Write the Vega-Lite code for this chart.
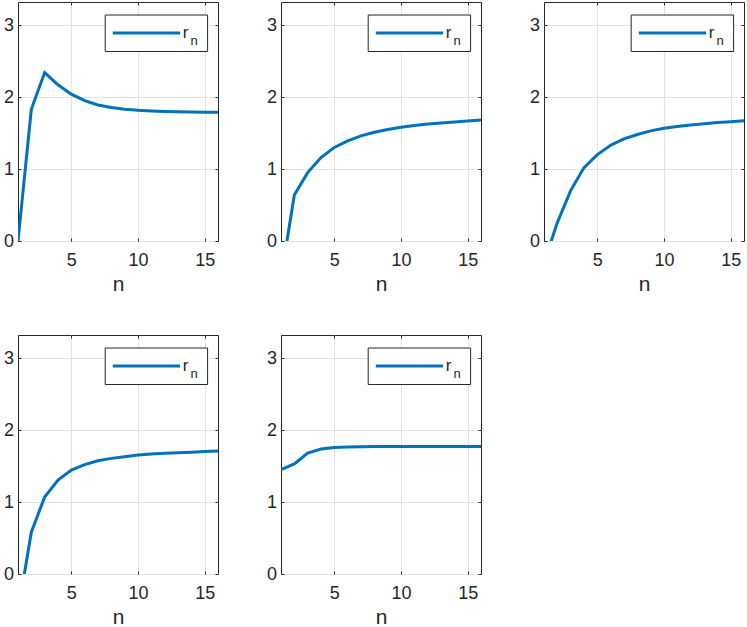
{
  "$schema": "https://vega.github.io/schema/vega-lite/v6.json",
  "padding": {"left": 2, "top": 1, "right": 3, "bottom": 0},
  "background": "white",
  "datasets": {
    "curves": [
      {"panel": 1, "n": 1, "r": 0}, {"panel": 1, "n": 2, "r": 1.83}, {"panel": 1, "n": 3, "r": 2.34}, {"panel": 1, "n": 4, "r": 2.17},
      {"panel": 1, "n": 5, "r": 2.04}, {"panel": 1, "n": 6, "r": 1.95}, {"panel": 1, "n": 7, "r": 1.89}, {"panel": 1, "n": 8, "r": 1.855},
      {"panel": 1, "n": 9, "r": 1.83}, {"panel": 1, "n": 10, "r": 1.815}, {"panel": 1, "n": 11, "r": 1.807}, {"panel": 1, "n": 12, "r": 1.80},
      {"panel": 1, "n": 13, "r": 1.797}, {"panel": 1, "n": 14, "r": 1.793}, {"panel": 1, "n": 15, "r": 1.79}, {"panel": 1, "n": 16, "r": 1.787},
      {"panel": 2, "n": 1, "r": -0.515}, {"panel": 2, "n": 2, "r": 0.64}, {"panel": 2, "n": 3, "r": 0.95}, {"panel": 2, "n": 4, "r": 1.16},
      {"panel": 2, "n": 5, "r": 1.30}, {"panel": 2, "n": 6, "r": 1.39}, {"panel": 2, "n": 7, "r": 1.46}, {"panel": 2, "n": 8, "r": 1.51},
      {"panel": 2, "n": 9, "r": 1.55}, {"panel": 2, "n": 10, "r": 1.58}, {"panel": 2, "n": 11, "r": 1.605}, {"panel": 2, "n": 12, "r": 1.625},
      {"panel": 2, "n": 13, "r": 1.64}, {"panel": 2, "n": 14, "r": 1.653}, {"panel": 2, "n": 15, "r": 1.667}, {"panel": 2, "n": 16, "r": 1.68},
      {"panel": 3, "n": 1, "r": -0.306}, {"panel": 3, "n": 2, "r": 0.255}, {"panel": 3, "n": 3, "r": 0.70}, {"panel": 3, "n": 4, "r": 1.02},
      {"panel": 3, "n": 5, "r": 1.20}, {"panel": 3, "n": 6, "r": 1.33}, {"panel": 3, "n": 7, "r": 1.42}, {"panel": 3, "n": 8, "r": 1.48},
      {"panel": 3, "n": 9, "r": 1.53}, {"panel": 3, "n": 10, "r": 1.565}, {"panel": 3, "n": 11, "r": 1.59}, {"panel": 3, "n": 12, "r": 1.61},
      {"panel": 3, "n": 13, "r": 1.63}, {"panel": 3, "n": 14, "r": 1.645}, {"panel": 3, "n": 15, "r": 1.657}, {"panel": 3, "n": 16, "r": 1.67},
      {"panel": 4, "n": 1, "r": -0.525}, {"panel": 4, "n": 2, "r": 0.58}, {"panel": 4, "n": 3, "r": 1.07}, {"panel": 4, "n": 4, "r": 1.305},
      {"panel": 4, "n": 5, "r": 1.444}, {"panel": 4, "n": 6, "r": 1.52}, {"panel": 4, "n": 7, "r": 1.574}, {"panel": 4, "n": 8, "r": 1.606},
      {"panel": 4, "n": 9, "r": 1.63}, {"panel": 4, "n": 10, "r": 1.653}, {"panel": 4, "n": 11, "r": 1.667}, {"panel": 4, "n": 12, "r": 1.676},
      {"panel": 4, "n": 13, "r": 1.685}, {"panel": 4, "n": 14, "r": 1.692}, {"panel": 4, "n": 15, "r": 1.70}, {"panel": 4, "n": 16, "r": 1.708},
      {"panel": 5, "n": 1, "r": 1.45}, {"panel": 5, "n": 2, "r": 1.53}, {"panel": 5, "n": 3, "r": 1.68}, {"panel": 5, "n": 4, "r": 1.736},
      {"panel": 5, "n": 5, "r": 1.758}, {"panel": 5, "n": 6, "r": 1.765}, {"panel": 5, "n": 7, "r": 1.768}, {"panel": 5, "n": 8, "r": 1.77},
      {"panel": 5, "n": 9, "r": 1.77}, {"panel": 5, "n": 10, "r": 1.77}, {"panel": 5, "n": 11, "r": 1.77}, {"panel": 5, "n": 12, "r": 1.77},
      {"panel": 5, "n": 13, "r": 1.77}, {"panel": 5, "n": 14, "r": 1.77}, {"panel": 5, "n": 15, "r": 1.77}, {"panel": 5, "n": 16, "r": 1.77}
    ],
    "one": [{}]
  },
  "columns": 3,
  "spacing": {"row": 94, "column": 63},
  "bounds": "flush",
  "concat": [
    {
      "width": 200, "height": 239,
      "layer": [
        {"data": {"name": "curves"}, "transform": [{"filter": "datum.panel == 1"}],
         "mark": {"type": "line", "color": "#0072BD", "strokeWidth": 3, "clip": true},
         "encoding": {
           "x": {"field": "n", "type": "quantitative", "scale": {"domain": [1, 16], "nice": false, "zero": false}, "axis": {"values": [5, 10, 15], "title": "n", "grid": true}},
           "y": {"field": "r", "type": "quantitative", "scale": {"domain": [0, 3.32], "nice": false}, "axis": {"values": [0, 1, 2, 3], "title": null, "grid": true, "orient": "left"}}
         }},
        {"data": {"name": "curves"}, "transform": [{"filter": "datum.panel == 1"}],
         "mark": {"type": "point", "opacity": 0},
         "encoding": {
           "x": {"field": "n", "type": "quantitative", "axis": {"orient": "top", "values": [5, 10, 15], "labels": false, "grid": false, "title": null}},
           "y": {"field": "r", "type": "quantitative", "axis": {"orient": "right", "values": [0, 1, 2, 3], "labels": false, "grid": false, "title": null}}
         }},
        {"data": {"name": "one"}, "mark": {"type": "rect", "fill": "white", "stroke": "#262626", "strokeWidth": 1},
         "encoding": {"x": {"datum": 7.54, "type": "quantitative", "axis": null}, "x2": {"datum": 15.22}, "y": {"datum": 3.139, "type": "quantitative", "axis": null}, "y2": {"datum": 2.632}}},
        {"data": {"name": "one"}, "mark": {"type": "rule", "color": "#0072BD", "strokeWidth": 3},
         "encoding": {"x": {"datum": 8.11, "type": "quantitative", "axis": null}, "x2": {"datum": 13.16}, "y": {"datum": 2.889, "type": "quantitative", "axis": null}}},
        {"data": {"name": "one"}, "mark": {"type": "text", "text": "r", "align": "left", "baseline": "alphabetic", "fontSize": 17, "fill": "#262626"},
         "encoding": {"x": {"datum": 13.36, "type": "quantitative", "axis": null}, "y": {"datum": 2.824, "type": "quantitative", "axis": null}}},
        {"data": {"name": "one"}, "mark": {"type": "text", "text": "n", "align": "left", "baseline": "alphabetic", "fontSize": 13, "fill": "#262626"},
         "encoding": {"x": {"datum": 13.93, "type": "quantitative", "axis": null}, "y": {"datum": 2.722, "type": "quantitative", "axis": null}}}
      ],
      "resolve": {"axis": {"x": "independent", "y": "independent"}}
    },
    {
      "width": 200, "height": 239,
      "layer": [
        {"data": {"name": "curves"}, "transform": [{"filter": "datum.panel == 2"}],
         "mark": {"type": "line", "color": "#0072BD", "strokeWidth": 3, "clip": true},
         "encoding": {
           "x": {"field": "n", "type": "quantitative", "scale": {"domain": [1, 16], "nice": false, "zero": false}, "axis": {"values": [5, 10, 15], "title": "n", "grid": true}},
           "y": {"field": "r", "type": "quantitative", "scale": {"domain": [0, 3.32], "nice": false}, "axis": {"values": [0, 1, 2, 3], "title": null, "grid": true, "orient": "left"}}
         }},
        {"data": {"name": "curves"}, "transform": [{"filter": "datum.panel == 2"}],
         "mark": {"type": "point", "opacity": 0},
         "encoding": {
           "x": {"field": "n", "type": "quantitative", "axis": {"orient": "top", "values": [5, 10, 15], "labels": false, "grid": false, "title": null}},
           "y": {"field": "r", "type": "quantitative", "axis": {"orient": "right", "values": [0, 1, 2, 3], "labels": false, "grid": false, "title": null}}
         }},
        {"data": {"name": "one"}, "mark": {"type": "rect", "fill": "white", "stroke": "#262626", "strokeWidth": 1},
         "encoding": {"x": {"datum": 7.54, "type": "quantitative", "axis": null}, "x2": {"datum": 15.22}, "y": {"datum": 3.139, "type": "quantitative", "axis": null}, "y2": {"datum": 2.632}}},
        {"data": {"name": "one"}, "mark": {"type": "rule", "color": "#0072BD", "strokeWidth": 3},
         "encoding": {"x": {"datum": 8.11, "type": "quantitative", "axis": null}, "x2": {"datum": 13.16}, "y": {"datum": 2.889, "type": "quantitative", "axis": null}}},
        {"data": {"name": "one"}, "mark": {"type": "text", "text": "r", "align": "left", "baseline": "alphabetic", "fontSize": 17, "fill": "#262626"},
         "encoding": {"x": {"datum": 13.36, "type": "quantitative", "axis": null}, "y": {"datum": 2.824, "type": "quantitative", "axis": null}}},
        {"data": {"name": "one"}, "mark": {"type": "text", "text": "n", "align": "left", "baseline": "alphabetic", "fontSize": 13, "fill": "#262626"},
         "encoding": {"x": {"datum": 13.93, "type": "quantitative", "axis": null}, "y": {"datum": 2.722, "type": "quantitative", "axis": null}}}
      ],
      "resolve": {"axis": {"x": "independent", "y": "independent"}}
    },
    {
      "width": 200, "height": 239,
      "layer": [
        {"data": {"name": "curves"}, "transform": [{"filter": "datum.panel == 3"}],
         "mark": {"type": "line", "color": "#0072BD", "strokeWidth": 3, "clip": true},
         "encoding": {
           "x": {"field": "n", "type": "quantitative", "scale": {"domain": [1, 16], "nice": false, "zero": false}, "axis": {"values": [5, 10, 15], "title": "n", "grid": true}},
           "y": {"field": "r", "type": "quantitative", "scale": {"domain": [0, 3.32], "nice": false}, "axis": {"values": [0, 1, 2, 3], "title": null, "grid": true, "orient": "left"}}
         }},
        {"data": {"name": "curves"}, "transform": [{"filter": "datum.panel == 3"}],
         "mark": {"type": "point", "opacity": 0},
         "encoding": {
           "x": {"field": "n", "type": "quantitative", "axis": {"orient": "top", "values": [5, 10, 15], "labels": false, "grid": false, "title": null}},
           "y": {"field": "r", "type": "quantitative", "axis": {"orient": "right", "values": [0, 1, 2, 3], "labels": false, "grid": false, "title": null}}
         }},
        {"data": {"name": "one"}, "mark": {"type": "rect", "fill": "white", "stroke": "#262626", "strokeWidth": 1},
         "encoding": {"x": {"datum": 7.54, "type": "quantitative", "axis": null}, "x2": {"datum": 15.22}, "y": {"datum": 3.139, "type": "quantitative", "axis": null}, "y2": {"datum": 2.632}}},
        {"data": {"name": "one"}, "mark": {"type": "rule", "color": "#0072BD", "strokeWidth": 3},
         "encoding": {"x": {"datum": 8.11, "type": "quantitative", "axis": null}, "x2": {"datum": 13.16}, "y": {"datum": 2.889, "type": "quantitative", "axis": null}}},
        {"data": {"name": "one"}, "mark": {"type": "text", "text": "r", "align": "left", "baseline": "alphabetic", "fontSize": 17, "fill": "#262626"},
         "encoding": {"x": {"datum": 13.36, "type": "quantitative", "axis": null}, "y": {"datum": 2.824, "type": "quantitative", "axis": null}}},
        {"data": {"name": "one"}, "mark": {"type": "text", "text": "n", "align": "left", "baseline": "alphabetic", "fontSize": 13, "fill": "#262626"},
         "encoding": {"x": {"datum": 13.93, "type": "quantitative", "axis": null}, "y": {"datum": 2.722, "type": "quantitative", "axis": null}}}
      ],
      "resolve": {"axis": {"x": "independent", "y": "independent"}}
    },
    {
      "width": 200, "height": 239,
      "layer": [
        {"data": {"name": "curves"}, "transform": [{"filter": "datum.panel == 4"}],
         "mark": {"type": "line", "color": "#0072BD", "strokeWidth": 3, "clip": true},
         "encoding": {
           "x": {"field": "n", "type": "quantitative", "scale": {"domain": [1, 16], "nice": false, "zero": false}, "axis": {"values": [5, 10, 15], "title": "n", "grid": true}},
           "y": {"field": "r", "type": "quantitative", "scale": {"domain": [0, 3.32], "nice": false}, "axis": {"values": [0, 1, 2, 3], "title": null, "grid": true, "orient": "left"}}
         }},
        {"data": {"name": "curves"}, "transform": [{"filter": "datum.panel == 4"}],
         "mark": {"type": "point", "opacity": 0},
         "encoding": {
           "x": {"field": "n", "type": "quantitative", "axis": {"orient": "top", "values": [5, 10, 15], "labels": false, "grid": false, "title": null}},
           "y": {"field": "r", "type": "quantitative", "axis": {"orient": "right", "values": [0, 1, 2, 3], "labels": false, "grid": false, "title": null}}
         }},
        {"data": {"name": "one"}, "mark": {"type": "rect", "fill": "white", "stroke": "#262626", "strokeWidth": 1},
         "encoding": {"x": {"datum": 7.54, "type": "quantitative", "axis": null}, "x2": {"datum": 15.22}, "y": {"datum": 3.139, "type": "quantitative", "axis": null}, "y2": {"datum": 2.632}}},
        {"data": {"name": "one"}, "mark": {"type": "rule", "color": "#0072BD", "strokeWidth": 3},
         "encoding": {"x": {"datum": 8.11, "type": "quantitative", "axis": null}, "x2": {"datum": 13.16}, "y": {"datum": 2.889, "type": "quantitative", "axis": null}}},
        {"data": {"name": "one"}, "mark": {"type": "text", "text": "r", "align": "left", "baseline": "alphabetic", "fontSize": 17, "fill": "#262626"},
         "encoding": {"x": {"datum": 13.36, "type": "quantitative", "axis": null}, "y": {"datum": 2.824, "type": "quantitative", "axis": null}}},
        {"data": {"name": "one"}, "mark": {"type": "text", "text": "n", "align": "left", "baseline": "alphabetic", "fontSize": 13, "fill": "#262626"},
         "encoding": {"x": {"datum": 13.93, "type": "quantitative", "axis": null}, "y": {"datum": 2.722, "type": "quantitative", "axis": null}}}
      ],
      "resolve": {"axis": {"x": "independent", "y": "independent"}}
    },
    {
      "width": 200, "height": 239,
      "layer": [
        {"data": {"name": "curves"}, "transform": [{"filter": "datum.panel == 5"}],
         "mark": {"type": "line", "color": "#0072BD", "strokeWidth": 3, "clip": true},
         "encoding": {
           "x": {"field": "n", "type": "quantitative", "scale": {"domain": [1, 16], "nice": false, "zero": false}, "axis": {"values": [5, 10, 15], "title": "n", "grid": true}},
           "y": {"field": "r", "type": "quantitative", "scale": {"domain": [0, 3.32], "nice": false}, "axis": {"values": [0, 1, 2, 3], "title": null, "grid": true, "orient": "left"}}
         }},
        {"data": {"name": "curves"}, "transform": [{"filter": "datum.panel == 5"}],
         "mark": {"type": "point", "opacity": 0},
         "encoding": {
           "x": {"field": "n", "type": "quantitative", "axis": {"orient": "top", "values": [5, 10, 15], "labels": false, "grid": false, "title": null}},
           "y": {"field": "r", "type": "quantitative", "axis": {"orient": "right", "values": [0, 1, 2, 3], "labels": false, "grid": false, "title": null}}
         }},
        {"data": {"name": "one"}, "mark": {"type": "rect", "fill": "white", "stroke": "#262626", "strokeWidth": 1},
         "encoding": {"x": {"datum": 7.54, "type": "quantitative", "axis": null}, "x2": {"datum": 15.22}, "y": {"datum": 3.139, "type": "quantitative", "axis": null}, "y2": {"datum": 2.632}}},
        {"data": {"name": "one"}, "mark": {"type": "rule", "color": "#0072BD", "strokeWidth": 3},
         "encoding": {"x": {"datum": 8.11, "type": "quantitative", "axis": null}, "x2": {"datum": 13.16}, "y": {"datum": 2.889, "type": "quantitative", "axis": null}}},
        {"data": {"name": "one"}, "mark": {"type": "text", "text": "r", "align": "left", "baseline": "alphabetic", "fontSize": 17, "fill": "#262626"},
         "encoding": {"x": {"datum": 13.36, "type": "quantitative", "axis": null}, "y": {"datum": 2.824, "type": "quantitative", "axis": null}}},
        {"data": {"name": "one"}, "mark": {"type": "text", "text": "n", "align": "left", "baseline": "alphabetic", "fontSize": 13, "fill": "#262626"},
         "encoding": {"x": {"datum": 13.93, "type": "quantitative", "axis": null}, "y": {"datum": 2.722, "type": "quantitative", "axis": null}}}
      ],
      "resolve": {"axis": {"x": "independent", "y": "independent"}}
    }
  ],
  "config": {
    "font": "Liberation Sans",
    "view": {"stroke": "#262626", "strokeWidth": 1},
    "axis": {
      "domain": false,
      "labelFont": "Liberation Sans", "labelFontSize": 18, "labelColor": "#262626",
      "tickColor": "#262626", "tickSize": -3, "tickWidth": 1,
      "gridColor": "#e3e3e3", "gridWidth": 1,
      "titleFont": "Liberation Sans", "titleFontSize": 21, "titleFontWeight": "normal", "titleColor": "#262626"
    },
    "axisBottom": {"labelPadding": 13.5, "titlePadding": 4},
    "axisLeft": {"labelPadding": 7.5}
  }
}
